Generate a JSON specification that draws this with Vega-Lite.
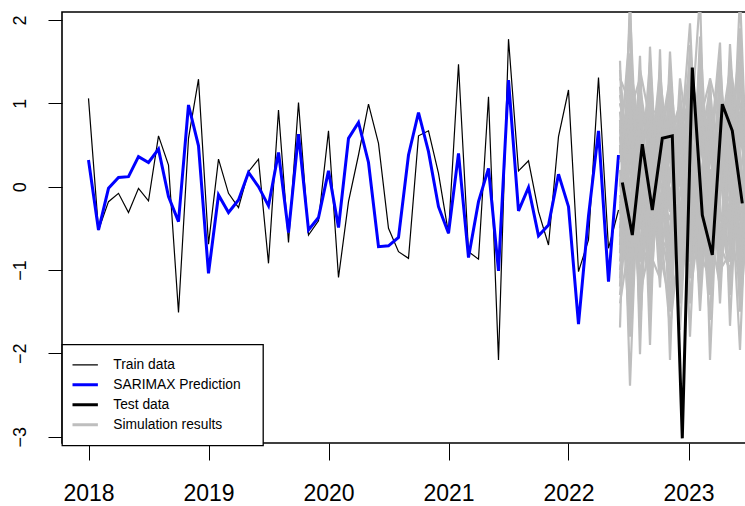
{
"$schema": "https://vega.github.io/schema/vega-lite/v6.json",
"width": 684, "height": 431,
"autosize": {"type": "none"},
"padding": {"left": 62, "top": 12, "right": 0, "bottom": 63},
"background": "white",
"config": {
  "view": {"stroke": "#000000", "strokeWidth": 1.6},
  "font": "Liberation Sans",
  "axis": {"grid": false, "domain": false, "tickColor": "#000000", "tickWidth": 1, "labelColor": "#000000", "labelFont": "Liberation Sans", "title": null}
},
"datasets": {
  "train": [
    {"m":0,"v":1.06},{"m":1,"v":-0.52},{"m":2,"v":-0.18},{"m":3,"v":-0.08},{"m":4,"v":-0.31},{"m":5,"v":-0.02},{"m":6,"v":-0.17},{"m":7,"v":0.61},{"m":8,"v":0.26},{"m":9,"v":-1.51},{"m":10,"v":0.58},{"m":11,"v":1.29},{"m":12,"v":-0.69},{"m":13,"v":0.33},{"m":14,"v":-0.08},{"m":15,"v":-0.25},{"m":16,"v":0.18},{"m":17,"v":0.33},{"m":18,"v":-0.92},{"m":19,"v":0.92},{"m":20,"v":-0.67},{"m":21,"v":1.01},{"m":22,"v":-0.58},{"m":23,"v":-0.41},{"m":24,"v":0.67},{"m":25,"v":-1.09},{"m":26,"v":-0.18},{"m":27,"v":0.38},{"m":28,"v":0.99},{"m":29,"v":0.52},{"m":30,"v":-0.5},{"m":31,"v":-0.78},{"m":32,"v":-0.86},{"m":33,"v":0.61},{"m":34,"v":0.67},{"m":35,"v":0.16},{"m":36,"v":-0.56},{"m":37,"v":1.47},{"m":38,"v":-0.78},{"m":39,"v":-0.87},{"m":40,"v":1.08},{"m":41,"v":-2.08},{"m":42,"v":1.77},{"m":43,"v":0.19},{"m":44,"v":0.31},{"m":45,"v":-0.3},{"m":46,"v":-0.7},{"m":47,"v":0.6},{"m":48,"v":1.16},{"m":49,"v":-1.02},{"m":50,"v":-0.64},{"m":51,"v":1.31},{"m":52,"v":-0.74},{"m":53,"v":-0.28}
  ],
  "pred": [
    {"m":0,"v":0.32},{"m":1,"v":-0.52},{"m":2,"v":-0.02},{"m":3,"v":0.11},{"m":4,"v":0.12},{"m":5,"v":0.36},{"m":6,"v":0.29},{"m":7,"v":0.45},{"m":8,"v":-0.12},{"m":9,"v":-0.42},{"m":10,"v":0.98},{"m":11,"v":0.49},{"m":12,"v":-1.04},{"m":13,"v":-0.1},{"m":14,"v":-0.31},{"m":15,"v":-0.16},{"m":16,"v":0.17},{"m":17,"v":0.0},{"m":18,"v":-0.23},{"m":19,"v":0.41},{"m":20,"v":-0.55},{"m":21,"v":0.63},{"m":22,"v":-0.52},{"m":23,"v":-0.37},{"m":24,"v":0.19},{"m":25,"v":-0.49},{"m":26,"v":0.58},{"m":27,"v":0.77},{"m":28,"v":0.29},{"m":29,"v":-0.72},{"m":30,"v":-0.71},{"m":31,"v":-0.61},{"m":32,"v":0.38},{"m":33,"v":0.89},{"m":34,"v":0.42},{"m":35,"v":-0.24},{"m":36,"v":-0.56},{"m":37,"v":0.4},{"m":38,"v":-0.85},{"m":39,"v":-0.18},{"m":40,"v":0.22},{"m":41,"v":-1.01},{"m":42,"v":1.28},{"m":43,"v":-0.29},{"m":44,"v":-0.01},{"m":45,"v":-0.59},{"m":46,"v":-0.46},{"m":47,"v":0.15},{"m":48,"v":-0.24},{"m":49,"v":-1.65},{"m":50,"v":-0.35},{"m":51,"v":0.67},{"m":52,"v":-1.14},{"m":53,"v":0.38}
  ],
  "test": [
    {"m":53.38,"v":0.05},{"m":54.38,"v":-0.58},{"m":55.38,"v":0.51},{"m":56.38,"v":-0.28},{"m":57.38,"v":0.58},{"m":58.38,"v":0.61},{"m":59.38,"v":-3.02},{"m":60.38,"v":1.43},{"m":61.38,"v":-0.34},{"m":62.38,"v":-0.82},{"m":63.38,"v":0.99},{"m":64.38,"v":0.67},{"m":65.38,"v":-0.2}
  ],
  "sim": [
    {"s":1,"m":53.15,"v":1.51},{"s":1,"m":54.15,"v":-2.39},{"s":1,"m":55.15,"v":0.8},{"s":1,"m":56.15,"v":-0.5},{"s":1,"m":57.15,"v":1.2},{"s":1,"m":58.15,"v":-0.3},{"s":1,"m":59.15,"v":0.4},{"s":1,"m":60.15,"v":1.96},{"s":1,"m":61.15,"v":-0.6},{"s":1,"m":62.15,"v":0.2},{"s":1,"m":63.15,"v":-1.0},{"s":1,"m":64.15,"v":1.71},{"s":1,"m":65.15,"v":-0.4},{"s":1,"m":66.15,"v":0.6},
    {"s":2,"m":53.15,"v":-1.69},{"s":2,"m":54.15,"v":2.3},{"s":2,"m":55.15,"v":-2.01},{"s":2,"m":56.15,"v":1.68},{"s":2,"m":57.15,"v":-0.7},{"s":2,"m":58.15,"v":0.9},{"s":2,"m":59.15,"v":-1.72},{"s":2,"m":60.15,"v":0.5},{"s":2,"m":61.15,"v":2.3},{"s":2,"m":62.15,"v":-2.08},{"s":2,"m":63.15,"v":0.7},{"s":2,"m":64.15,"v":-0.5},{"s":2,"m":65.15,"v":2.3},{"s":2,"m":66.15,"v":-0.8},
    {"s":3,"m":53.15,"v":0.9},{"s":3,"m":54.15,"v":-0.8},{"s":3,"m":55.15,"v":1.57},{"s":3,"m":56.15,"v":-1.9},{"s":3,"m":57.15,"v":1.65},{"s":3,"m":58.15,"v":-2.08},{"s":3,"m":59.15,"v":1.16},{"s":3,"m":60.15,"v":-1.8},{"s":3,"m":61.15,"v":0.8},{"s":3,"m":62.15,"v":1.28},{"s":3,"m":63.15,"v":-1.16},{"s":3,"m":64.15,"v":0.3},{"s":3,"m":65.15,"v":-1.96},{"s":3,"m":66.15,"v":1.0},
    {"s":4,"m":53.15,"v":-0.6},{"s":4,"m":54.15,"v":1.2},{"s":4,"m":55.15,"v":-0.4},{"s":4,"m":56.15,"v":0.6},{"s":4,"m":57.15,"v":-1.21},{"s":4,"m":58.15,"v":1.62},{"s":4,"m":59.15,"v":-0.5},{"s":4,"m":60.15,"v":0.9},{"s":4,"m":61.15,"v":-1.49},{"s":4,"m":62.15,"v":0.4},{"s":4,"m":63.15,"v":1.73},{"s":4,"m":64.15,"v":-1.67},{"s":4,"m":65.15,"v":0.9},{"s":4,"m":66.15,"v":-0.3},
    {"s":5,"m":53.15,"v":0.3},{"s":5,"m":54.15,"v":0.5},{"s":5,"m":55.15,"v":-1.1},{"s":5,"m":56.15,"v":0.2},{"s":5,"m":57.15,"v":0.8},{"s":5,"m":58.15,"v":-0.9},{"s":5,"m":59.15,"v":0.7},{"s":5,"m":60.15,"v":-0.4},{"s":5,"m":61.15,"v":1.3},{"s":5,"m":62.15,"v":-0.9},{"s":5,"m":63.15,"v":0.2},{"s":5,"m":64.15,"v":1.1},{"s":5,"m":65.15,"v":-0.8},{"s":5,"m":66.15,"v":0.4},
    {"s":6,"m":53.15,"v":-0.2},{"s":6,"m":54.15,"v":-1.3},{"s":6,"m":55.15,"v":0.6},{"s":6,"m":56.15,"v":1.1},{"s":6,"m":57.15,"v":-0.3},{"s":6,"m":58.15,"v":0.4},{"s":6,"m":59.15,"v":-1.0},{"s":6,"m":60.15,"v":1.2},{"s":6,"m":61.15,"v":-0.2},{"s":6,"m":62.15,"v":0.9},{"s":6,"m":63.15,"v":-0.6},{"s":6,"m":64.15,"v":-0.2},{"s":6,"m":65.15,"v":1.4},{"s":6,"m":66.15,"v":-1.1},
    {"s":7,"m":53.15,"v":1.1},{"s":7,"m":54.15,"v":0.2},{"s":7,"m":55.15,"v":-0.7},{"s":7,"m":56.15,"v":-0.9},{"s":7,"m":57.15,"v":0.5},{"s":7,"m":58.15,"v":1.2},{"s":7,"m":59.15,"v":0.1},{"s":7,"m":60.15,"v":-1.1},{"s":7,"m":61.15,"v":0.6},{"s":7,"m":62.15,"v":-0.4},{"s":7,"m":63.15,"v":1.0},{"s":7,"m":64.15,"v":0.8},{"s":7,"m":65.15,"v":-1.3},{"s":7,"m":66.15,"v":0.2},
    {"s":8,"m":53.15,"v":-1.2},{"s":8,"m":54.15,"v":1.6},{"s":8,"m":55.15,"v":0.3},{"s":8,"m":56.15,"v":-0.2},{"s":8,"m":57.15,"v":-0.8},{"s":8,"m":58.15,"v":-1.4},{"s":8,"m":59.15,"v":0.9},{"s":8,"m":60.15,"v":0.3},{"s":8,"m":61.15,"v":-0.9},{"s":8,"m":62.15,"v":1.1},{"s":8,"m":63.15,"v":-0.3},{"s":8,"m":64.15,"v":-1.1},{"s":8,"m":65.15,"v":0.5},{"s":8,"m":66.15,"v":1.2},
    {"s":9,"m":53.15,"v":0.6},{"s":9,"m":54.15,"v":-0.3},{"s":9,"m":55.15,"v":1.2},{"s":9,"m":56.15,"v":0.4},{"s":9,"m":57.15,"v":1.0},{"s":9,"m":58.15,"v":0.1},{"s":9,"m":59.15,"v":-0.3},{"s":9,"m":60.15,"v":-0.6},{"s":9,"m":61.15,"v":1.6},{"s":9,"m":62.15,"v":-1.3},{"s":9,"m":63.15,"v":0.5},{"s":9,"m":64.15,"v":0.6},{"s":9,"m":65.15,"v":1.7},{"s":9,"m":66.15,"v":-0.5},
    {"s":10,"m":53.15,"v":-0.9},{"s":10,"m":54.15,"v":0.8},{"s":10,"m":55.15,"v":-1.5},{"s":10,"m":56.15,"v":0.9},{"s":10,"m":57.15,"v":0.1},{"s":10,"m":58.15,"v":-0.6},{"s":10,"m":59.15,"v":0.5},{"s":10,"m":60.15,"v":1.5},{"s":10,"m":61.15,"v":-0.1},{"s":10,"m":62.15,"v":0.6},{"s":10,"m":63.15,"v":-0.8},{"s":10,"m":64.15,"v":1.3},{"s":10,"m":65.15,"v":-0.2},{"s":10,"m":66.15,"v":0.8},
    {"s":11,"m":53.15,"v":0.1},{"s":11,"m":54.15,"v":-1.8},{"s":11,"m":55.15,"v":0.2},{"s":11,"m":56.15,"v":-1.3},{"s":11,"m":57.15,"v":0.9},{"s":11,"m":58.15,"v":0.7},{"s":11,"m":59.15,"v":-0.8},{"s":11,"m":60.15,"v":0.0},{"s":11,"m":61.15,"v":0.3},{"s":11,"m":62.15,"v":-0.6},{"s":11,"m":63.15,"v":1.2},{"s":11,"m":64.15,"v":-0.7},{"s":11,"m":65.15,"v":0.3},{"s":11,"m":66.15,"v":-1.2},
    {"s":12,"m":53.15,"v":1.3},{"s":12,"m":54.15,"v":1.0},{"s":12,"m":55.15,"v":-0.2},{"s":12,"m":56.15,"v":0.7},{"s":12,"m":57.15,"v":-0.5},{"s":12,"m":58.15,"v":-1.1},{"s":12,"m":59.15,"v":0.3},{"s":12,"m":60.15,"v":0.8},{"s":12,"m":61.15,"v":-1.1},{"s":12,"m":62.15,"v":0.2},{"s":12,"m":63.15,"v":0.1},{"s":12,"m":64.15,"v":0.9},{"s":12,"m":65.15,"v":-1.5},{"s":12,"m":66.15,"v":0.0},
    {"s":13,"m":53.15,"v":-0.4},{"s":13,"m":54.15,"v":0.0},{"s":13,"m":55.15,"v":0.9},{"s":13,"m":56.15,"v":-0.6},{"s":13,"m":57.15,"v":0.3},{"s":13,"m":58.15,"v":1.0},{"s":13,"m":59.15,"v":-1.3},{"s":13,"m":60.15,"v":-0.2},{"s":13,"m":61.15,"v":1.0},{"s":13,"m":62.15,"v":0.8},{"s":13,"m":63.15,"v":-0.5},{"s":13,"m":64.15,"v":-0.3},{"s":13,"m":65.15,"v":1.1},{"s":13,"m":66.15,"v":0.9},
    {"s":14,"m":53.15,"v":0.4},{"s":14,"m":54.15,"v":1.9},{"s":14,"m":55.15,"v":-0.9},{"s":14,"m":56.15,"v":1.3},{"s":14,"m":57.15,"v":-0.1},{"s":14,"m":58.15,"v":-0.4},{"s":14,"m":59.15,"v":0.6},{"s":14,"m":60.15,"v":1.1},{"s":14,"m":61.15,"v":0.0},{"s":14,"m":62.15,"v":-1.6},{"s":14,"m":63.15,"v":0.9},{"s":14,"m":64.15,"v":0.2},{"s":14,"m":65.15,"v":-0.6},{"s":14,"m":66.15,"v":-0.2},
    {"s":15,"m":53.15,"v":-1.4},{"s":15,"m":54.15,"v":-0.6},{"s":15,"m":55.15,"v":0.4},{"s":15,"m":56.15,"v":0.0},{"s":15,"m":57.15,"v":1.3},{"s":15,"m":58.15,"v":0.3},{"s":15,"m":59.15,"v":-0.2},{"s":15,"m":60.15,"v":-1.4},{"s":15,"m":61.15,"v":0.5},{"s":15,"m":62.15,"v":0.0},{"s":15,"m":63.15,"v":-0.2},{"s":15,"m":64.15,"v":1.5},{"s":15,"m":65.15,"v":0.6},{"s":15,"m":66.15,"v":0.3},
    {"s":16,"m":53.15,"v":0.7},{"s":16,"m":54.15,"v":1.4},{"s":16,"m":55.15,"v":-1.7},{"s":16,"m":56.15,"v":0.5},{"s":16,"m":57.15,"v":-0.9},{"s":16,"m":58.15,"v":1.4},{"s":16,"m":59.15,"v":0.0},{"s":16,"m":60.15,"v":0.6},{"s":16,"m":61.15,"v":-0.5},{"s":16,"m":62.15,"v":1.0},{"s":16,"m":63.15,"v":0.4},{"s":16,"m":64.15,"v":-1.3},{"s":16,"m":65.15,"v":1.9},{"s":16,"m":66.15,"v":-0.7},
    {"s":17,"m":53.15,"v":-0.1},{"s":17,"m":54.15,"v":-1.0},{"s":17,"m":55.15,"v":1.0},{"s":17,"m":56.15,"v":-1.5},{"s":17,"m":57.15,"v":0.6},{"s":17,"m":58.15,"v":-0.2},{"s":17,"m":59.15,"v":0.8},{"s":17,"m":60.15,"v":-0.9},{"s":17,"m":61.15,"v":1.8},{"s":17,"m":62.15,"v":-0.2},{"s":17,"m":63.15,"v":-0.9},{"s":17,"m":64.15,"v":0.5},{"s":17,"m":65.15,"v":-1.0},{"s":17,"m":66.15,"v":1.3},
    {"s":18,"m":53.15,"v":1.0},{"s":18,"m":54.15,"v":0.6},{"s":18,"m":55.15,"v":0.0},{"s":18,"m":56.15,"v":1.5},{"s":18,"m":57.15,"v":-0.4},{"s":18,"m":58.15,"v":-1.7},{"s":18,"m":59.15,"v":-0.6},{"s":18,"m":60.15,"v":1.7},{"s":18,"m":61.15,"v":0.2},{"s":18,"m":62.15,"v":-0.8},{"s":18,"m":63.15,"v":1.4},{"s":18,"m":64.15,"v":-0.9},{"s":18,"m":65.15,"v":0.0},{"s":18,"m":66.15,"v":0.5},
    {"s":19,"m":53.15,"v":-0.8},{"s":19,"m":54.15,"v":2.1},{"s":19,"m":55.15,"v":-0.5},{"s":19,"m":56.15,"v":-0.3},{"s":19,"m":57.15,"v":0.2},{"s":19,"m":58.15,"v":0.6},{"s":19,"m":59.15,"v":1.0},{"s":19,"m":60.15,"v":-0.5},{"s":19,"m":61.15,"v":-0.7},{"s":19,"m":62.15,"v":0.5},{"s":19,"m":63.15,"v":0.6},{"s":19,"m":64.15,"v":1.0},{"s":19,"m":65.15,"v":-0.4},{"s":19,"m":66.15,"v":-0.9},
    {"s":20,"m":53.15,"v":0.2},{"s":20,"m":54.15,"v":-1.6},{"s":20,"m":55.15,"v":1.4},{"s":20,"m":56.15,"v":0.8},{"s":20,"m":57.15,"v":-0.6},{"s":20,"m":58.15,"v":-0.8},{"s":20,"m":59.15,"v":-0.1},{"s":20,"m":60.15,"v":1.3},{"s":20,"m":61.15,"v":0.9},{"s":20,"m":62.15,"v":-0.3},{"s":20,"m":63.15,"v":-0.4},{"s":20,"m":64.15,"v":-0.1},{"s":20,"m":65.15,"v":1.2},{"s":20,"m":66.15,"v":0.1},
    {"s":21,"m":53.15,"v":0.5},{"s":21,"m":54.15,"v":-0.9},{"s":21,"m":55.15,"v":0.3},{"s":21,"m":56.15,"v":1.0},{"s":21,"m":57.15,"v":-1.0},{"s":21,"m":58.15,"v":0.2},{"s":21,"m":59.15,"v":0.9},{"s":21,"m":60.15,"v":-0.7},{"s":21,"m":61.15,"v":0.4},{"s":21,"m":62.15,"v":1.2},{"s":21,"m":63.15,"v":-0.3},{"s":21,"m":64.15,"v":-0.9},{"s":21,"m":65.15,"v":0.7},{"s":21,"m":66.15,"v":-0.4},
    {"s":22,"m":53.15,"v":-0.5},{"s":22,"m":54.15,"v":1.1},{"s":22,"m":55.15,"v":-0.6},{"s":22,"m":56.15,"v":-1.1},{"s":22,"m":57.15,"v":0.4},{"s":22,"m":58.15,"v":0.9},{"s":22,"m":59.15,"v":-0.4},{"s":22,"m":60.15,"v":0.6},{"s":22,"m":61.15,"v":-0.3},{"s":22,"m":62.15,"v":-1.0},{"s":22,"m":63.15,"v":1.1},{"s":22,"m":64.15,"v":0.4},{"s":22,"m":65.15,"v":-0.9},{"s":22,"m":66.15,"v":0.6},
    {"s":23,"m":53.15,"v":1.2},{"s":23,"m":54.15,"v":-0.4},{"s":23,"m":55.15,"v":0.7},{"s":23,"m":56.15,"v":-0.3},{"s":23,"m":57.15,"v":-0.6},{"s":23,"m":58.15,"v":-0.5},{"s":23,"m":59.15,"v":1.1},{"s":23,"m":60.15,"v":0.2},{"s":23,"m":61.15,"v":-1.3},{"s":23,"m":62.15,"v":0.7},{"s":23,"m":63.15,"v":0.3},{"s":23,"m":64.15,"v":-0.4},{"s":23,"m":65.15,"v":0.8},{"s":23,"m":66.15,"v":1.1},
    {"s":24,"m":53.15,"v":-1.0},{"s":24,"m":54.15,"v":0.3},{"s":24,"m":55.15,"v":1.1},{"s":24,"m":56.15,"v":0.3},{"s":24,"m":57.15,"v":0.7},{"s":24,"m":58.15,"v":-1.3},{"s":24,"m":59.15,"v":-0.9},{"s":24,"m":60.15,"v":1.0},{"s":24,"m":61.15,"v":0.7},{"s":24,"m":62.15,"v":-0.5},{"s":24,"m":63.15,"v":-1.2},{"s":24,"m":64.15,"v":0.7},{"s":24,"m":65.15,"v":0.2},{"s":24,"m":66.15,"v":-0.6},
    {"s":25,"m":53.15,"v":0.0},{"s":25,"m":54.15,"v":1.3},{"s":25,"m":55.15,"v":-1.3},{"s":25,"m":56.15,"v":-0.7},{"s":25,"m":57.15,"v":1.1},{"s":25,"m":58.15,"v":0.5},{"s":25,"m":59.15,"v":0.2},{"s":25,"m":60.15,"v":-1.3},{"s":25,"m":61.15,"v":-0.4},{"s":25,"m":62.15,"v":1.3},{"s":25,"m":63.15,"v":0.8},{"s":25,"m":64.15,"v":-0.6},{"s":25,"m":65.15,"v":-1.1},{"s":25,"m":66.15,"v":0.9},
    {"s":26,"m":53.15,"v":0.8},{"s":26,"m":54.15,"v":-1.4},{"s":26,"m":55.15,"v":0.1},{"s":26,"m":56.15,"v":1.2},{"s":26,"m":57.15,"v":-0.2},{"s":26,"m":58.15,"v":-0.7},{"s":26,"m":59.15,"v":1.3},{"s":26,"m":60.15,"v":0.4},{"s":26,"m":61.15,"v":1.1},{"s":26,"m":62.15,"v":-0.7},{"s":26,"m":63.15,"v":-0.1},{"s":26,"m":64.15,"v":1.2},{"s":26,"m":65.15,"v":0.4},{"s":26,"m":66.15,"v":-1.0},
    {"s":27,"m":53.15,"v":-0.3},{"s":27,"m":54.15,"v":0.9},{"s":27,"m":55.15,"v":1.3},{"s":27,"m":56.15,"v":-1.0},{"s":27,"m":57.15,"v":0.0},{"s":27,"m":58.15,"v":1.1},{"s":27,"m":59.15,"v":-0.6},{"s":27,"m":60.15,"v":-0.8},{"s":27,"m":61.15,"v":0.1},{"s":27,"m":62.15,"v":0.3},{"s":27,"m":63.15,"v":1.5},{"s":27,"m":64.15,"v":-0.2},{"s":27,"m":65.15,"v":-0.7},{"s":27,"m":66.15,"v":0.7},
    {"s":28,"m":53.15,"v":1.4},{"s":28,"m":54.15,"v":-0.1},{"s":28,"m":55.15,"v":-0.8},{"s":28,"m":56.15,"v":0.2},{"s":28,"m":57.15,"v":1.4},{"s":28,"m":58.15,"v":-0.1},{"s":28,"m":59.15,"v":0.4},{"s":28,"m":60.15,"v":0.9},{"s":28,"m":61.15,"v":-0.8},{"s":28,"m":62.15,"v":-1.1},{"s":28,"m":63.15,"v":0.0},{"s":28,"m":64.15,"v":1.0},{"s":28,"m":65.15,"v":1.0},{"s":28,"m":66.15,"v":-0.3},
    {"s":29,"m":53.15,"v":-1.1},{"s":29,"m":54.15,"v":0.6},{"s":29,"m":55.15,"v":0.5},{"s":29,"m":56.15,"v":-0.4},{"s":29,"m":57.15,"v":-0.3},{"s":29,"m":58.15,"v":0.8},{"s":29,"m":59.15,"v":-1.1},{"s":29,"m":60.15,"v":1.4},{"s":29,"m":61.15,"v":0.5},{"s":29,"m":62.15,"v":0.1},{"s":29,"m":63.15,"v":-0.7},{"s":29,"m":64.15,"v":-1.0},{"s":29,"m":65.15,"v":0.1},{"s":29,"m":66.15,"v":1.0},
    {"s":30,"m":53.15,"v":0.6},{"s":30,"m":54.15,"v":-0.6},{"s":30,"m":55.15,"v":-0.3},{"s":30,"m":56.15,"v":0.9},{"s":30,"m":57.15,"v":0.9},{"s":30,"m":58.15,"v":-1.5},{"s":30,"m":59.15,"v":0.6},{"s":30,"m":60.15,"v":-0.3},{"s":30,"m":61.15,"v":1.4},{"s":30,"m":62.15,"v":-0.2},{"s":30,"m":63.15,"v":0.9},{"s":30,"m":64.15,"v":0.0},{"s":30,"m":65.15,"v":-0.5},{"s":30,"m":66.15,"v":-0.7},
    {"s":31,"m":53.15,"v":-0.7},{"s":31,"m":54.15,"v":1.5},{"s":31,"m":55.15,"v":0.6},{"s":31,"m":56.15,"v":-0.8},{"s":31,"m":57.15,"v":-1.1},{"s":31,"m":58.15,"v":0.2},{"s":31,"m":59.15,"v":0.2},{"s":31,"m":60.15,"v":0.7},{"s":31,"m":61.15,"v":-0.6},{"s":31,"m":62.15,"v":0.9},{"s":31,"m":63.15,"v":-1.4},{"s":31,"m":64.15,"v":0.9},{"s":31,"m":65.15,"v":1.3},{"s":31,"m":66.15,"v":0.3},
    {"s":32,"m":53.15,"v":0.2},{"s":32,"m":54.15,"v":-0.2},{"s":32,"m":55.15,"v":-1.2},{"s":32,"m":56.15,"v":0.4},{"s":32,"m":57.15,"v":0.6},{"s":32,"m":58.15,"v":1.3},{"s":32,"m":59.15,"v":-0.7},{"s":32,"m":60.15,"v":-1.0},{"s":32,"m":61.15,"v":0.8},{"s":32,"m":62.15,"v":-0.9},{"s":32,"m":63.15,"v":0.6},{"s":32,"m":64.15,"v":1.4},{"s":32,"m":65.15,"v":-0.3},{"s":32,"m":66.15,"v":-0.1},
    {"s":33,"m":53.15,"v":1.0},{"s":33,"m":54.15,"v":0.4},{"s":33,"m":55.15,"v":0.8},{"s":33,"m":56.15,"v":-1.2},{"s":33,"m":57.15,"v":0.2},{"s":33,"m":58.15,"v":-0.3},{"s":33,"m":59.15,"v":0.8},{"s":33,"m":60.15,"v":1.0},{"s":33,"m":61.15,"v":-1.0},{"s":33,"m":62.15,"v":0.5},{"s":33,"m":63.15,"v":0.2},{"s":33,"m":64.15,"v":-0.6},{"s":33,"m":65.15,"v":0.6},{"s":33,"m":66.15,"v":0.4},
    {"s":34,"m":53.15,"v":-0.3},{"s":34,"m":54.15,"v":-1.1},{"s":34,"m":55.15,"v":-0.1},{"s":34,"m":56.15,"v":0.7},{"s":34,"m":57.15,"v":-0.7},{"s":34,"m":58.15,"v":0.9},{"s":34,"m":59.15,"v":-0.2},{"s":34,"m":60.15,"v":-0.6},{"s":34,"m":61.15,"v":0.6},{"s":34,"m":62.15,"v":-0.1},{"s":34,"m":63.15,"v":1.3},{"s":34,"m":64.15,"v":0.3},{"s":34,"m":65.15,"v":-1.2},{"s":34,"m":66.15,"v":1.1},
    {"s":35,"m":53.15,"v":0.9},{"s":35,"m":54.15,"v":0.7},{"s":35,"m":55.15,"v":0.5},{"s":35,"m":56.15,"v":0.1},{"s":35,"m":57.15,"v":1.2},{"s":35,"m":58.15,"v":-0.8},{"s":35,"m":59.15,"v":0.5},{"s":35,"m":60.15,"v":0.2},{"s":35,"m":61.15,"v":-0.3},{"s":35,"m":62.15,"v":0.7},{"s":35,"m":63.15,"v":-1.0},{"s":35,"m":64.15,"v":-0.8},{"s":35,"m":65.15,"v":0.9},{"s":35,"m":66.15,"v":-0.6},
    {"s":36,"m":53.15,"v":-0.6},{"s":36,"m":54.15,"v":-0.5},{"s":36,"m":55.15,"v":1.0},{"s":36,"m":56.15,"v":-0.6},{"s":36,"m":57.15,"v":-0.4},{"s":36,"m":58.15,"v":0.5},{"s":36,"m":59.15,"v":-1.4},{"s":36,"m":60.15,"v":1.2},{"s":36,"m":61.15,"v":0.3},{"s":36,"m":62.15,"v":-0.6},{"s":36,"m":63.15,"v":0.4},{"s":36,"m":64.15,"v":0.7},{"s":36,"m":65.15,"v":-0.2},{"s":36,"m":66.15,"v":0.5},
    {"s":37,"m":53.15,"v":0.4},{"s":37,"m":54.15,"v":1.0},{"s":37,"m":55.15,"v":-0.9},{"s":37,"m":56.15,"v":0.5},{"s":37,"m":57.15,"v":0.4},{"s":37,"m":58.15,"v":-0.2},{"s":37,"m":59.15,"v":0.3},{"s":37,"m":60.15,"v":-0.4},{"s":37,"m":61.15,"v":1.2},{"s":37,"m":62.15,"v":0.4},{"s":37,"m":63.15,"v":-0.6},{"s":37,"m":64.15,"v":-0.4},{"s":37,"m":65.15,"v":1.5},{"s":37,"m":66.15,"v":-0.2},
    {"s":38,"m":53.15,"v":-1.3},{"s":38,"m":54.15,"v":0.1},{"s":38,"m":55.15,"v":0.2},{"s":38,"m":56.15,"v":1.0},{"s":38,"m":57.15,"v":-0.5},{"s":38,"m":58.15,"v":0.6},{"s":38,"m":59.15,"v":0.9},{"s":38,"m":60.15,"v":0.0},{"s":38,"m":61.15,"v":-0.2},{"s":38,"m":62.15,"v":-1.2},{"s":38,"m":63.15,"v":0.8},{"s":38,"m":64.15,"v":1.1},{"s":38,"m":65.15,"v":-0.7},{"s":38,"m":66.15,"v":0.8},
    {"s":39,"m":53.15,"v":0.7},{"s":39,"m":54.15,"v":-1.2},{"s":39,"m":55.15,"v":0.9},{"s":39,"m":56.15,"v":-0.1},{"s":39,"m":57.15,"v":0.8},{"s":39,"m":58.15,"v":-1.0},{"s":39,"m":59.15,"v":-0.4},{"s":39,"m":60.15,"v":0.5},{"s":39,"m":61.15,"v":0.0},{"s":39,"m":62.15,"v":0.8},{"s":39,"m":63.15,"v":-0.5},{"s":39,"m":64.15,"v":-0.2},{"s":39,"m":65.15,"v":0.4},{"s":39,"m":66.15,"v":-0.8},
    {"s":40,"m":53.15,"v":-0.2},{"s":40,"m":54.15,"v":0.4},{"s":40,"m":55.15,"v":-0.5},{"s":40,"m":56.15,"v":0.3},{"s":40,"m":57.15,"v":-0.2},{"s":40,"m":58.15,"v":0.2},{"s":40,"m":59.15,"v":0.7},{"s":40,"m":60.15,"v":-0.9},{"s":40,"m":61.15,"v":0.9},{"s":40,"m":62.15,"v":0.3},{"s":40,"m":63.15,"v":0.5},{"s":40,"m":64.15,"v":0.6},{"s":40,"m":65.15,"v":-0.9},{"s":40,"m":66.15,"v":0.2}
  ]
},
"encoding": {
  "x": {"field": "m", "type": "quantitative",
    "scale": {"domain": [-2.65, 65.75], "nice": false, "zero": false},
    "axis": {"values": [0, 12, 24, 36, 48, 60], "labelExpr": "'' + (2018 + datum.value / 12)", "tickSize": 17, "labelFontSize": 23, "labelPadding": 22, "labelFlush": false}},
  "y": {"field": "v", "type": "quantitative",
    "scale": {"domain": [-3.076, 2.096], "nice": false, "zero": false},
    "axis": {"values": [-3, -2, -1, 0, 1, 2], "tickSize": 14, "labelFontSize": 18, "labelAngle": -90, "labelAlign": "center", "labelBaseline": "alphabetic", "labelPadding": 23}}
},
"layer": [
  {"data": {"name": "train"}, "mark": {"type": "line", "clip": true, "strokeWidth": 1.2},
   "encoding": {
     "color": {"datum": "Train data", "type": "nominal",
       "scale": {"domain": ["Train data", "SARIMAX Prediction", "Test data", "Simulation results"], "range": ["#000000", "#0000ff", "#000000", "#bebebe"]},
       "legend": {"title": "\u00a0", "titleOrient": "right", "titlePadding": 12, "titleFontSize": 1, "orient": "none", "legendX": 0, "legendY": 332.5, "symbolType": "M-1.37,0L1.37,0", "symbolSize": 388, "symbolOffset": 5, "labelFontSize": 13.8, "labelFont": "Liberation Sans", "labelColor": "#000000", "labelOffset": 22, "padding": 10.5, "rowPadding": 0, "clipHeight": 19.7, "strokeColor": "#000000", "fillColor": "#ffffff", "symbolStrokeWidth": 3, "symbolFillColor": "transparent",
         "encode": {
           "legend": {"update": {"strokeWidth": {"value": 1.3}}},
           "symbols": {"update": {"strokeWidth": {"signal": "datum.value === 'Train data' ? 1.2 : 3"}, "fill": {"value": "transparent"}}}}}}
   }},
  {"data": {"name": "pred"}, "mark": {"type": "line", "clip": true, "strokeWidth": 3},
   "encoding": {
     "color": {"datum": "SARIMAX Prediction", "type": "nominal"}
   }},
  {"data": {"name": "sim"}, "mark": {"type": "line", "clip": true, "strokeWidth": 2.2},
   "encoding": {
     "color": {"datum": "Simulation results", "type": "nominal"},
     "detail": {"field": "s", "type": "nominal"}
   }},
  {"data": {"name": "test"}, "mark": {"type": "line", "clip": true, "strokeWidth": 3},
   "encoding": {
     "color": {"datum": "Test data", "type": "nominal"}
   }}
]
}
